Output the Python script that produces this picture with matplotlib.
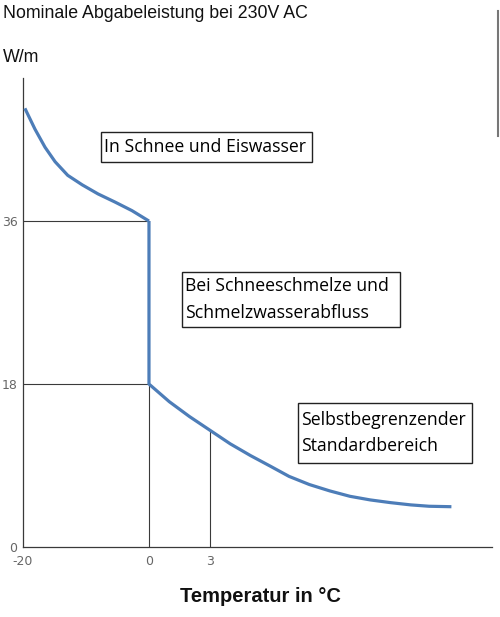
import numpy as np
import matplotlib
matplotlib.use("Agg")
import matplotlib.pyplot as plt
from matplotlib.lines import Line2D

# ---- data ----
temp_cold = [-19.7, -18.1, -16.5, -14.9, -12.9, -10.6, -8.1, -5.4, -2.7, 0.0]
power_cold = [48.45, 46.15, 44.15, 42.55, 41.05, 40.0, 39.0, 38.1, 37.15, 36.0]
temp_warm = [0.0, 0.0, 1.0, 2.0, 3.0, 4.0, 5.0, 6.0, 6.9, 7.9, 8.9, 9.9,
             10.9, 11.9, 12.9, 13.8, 14.9]
power_warm = [36.0, 18.0, 16.05, 14.4, 12.9, 11.4, 10.1, 8.9, 7.8, 6.9, 6.2, 5.6,
              5.2, 4.9, 4.65, 4.5, 4.45]
x_ticks = [-20, 0, 3]
x_ticklabels = ["-20", "0", "3"]
y_ticks = [0, 18, 36]
y_ticklabels = ["0", "18", "36"]
title = "Nominale Abgabeleistung bei 230V AC"
unit = "W/m"
xlabel = "Temperatur in °C"
box_labels = ["In Schnee und Eiswasser",
              "Bei Schneeschmelze und\nSchmelzwasserabfluss",
              "Selbstbegrenzender\nStandardbereich"]

# piecewise-linear temperature axis as in the original drawing
def fwd(t):
    t = np.asarray(t, dtype=float)
    return np.where(t < 0, t * 6.3, t * 20.3)

def inv(p):
    p = np.asarray(p, dtype=float)
    return np.where(p < 0, p / 6.3, p / 20.3)

fig = plt.figure(figsize=(5.0, 6.17), dpi=100)
ax = fig.add_axes([0.046, 1 - 547 / 617, 0.984 - 0.046, (547 - 78) / 617])
ax.set_xscale("function", functions=(fwd, inv))
ax.set_xlim(-20, 16.9)
ax.set_ylim(0, 51.8)

grey = "#3a3a3a"
# reference lines
ax.plot([-20, 0], [36, 36], color=grey, lw=0.8, zorder=1)
ax.plot([-20, 0], [18, 18], color=grey, lw=0.8, zorder=1)
ax.plot([0, 0], [0, 18], color=grey, lw=0.8, zorder=1)
ax.plot([3, 3], [0, power_warm[temp_warm.index(3.0)]], color=grey, lw=0.8, zorder=1)

curve_col = "#4d7db8"
ax.plot(temp_cold, power_cold, color=curve_col, lw=2.3, solid_capstyle="butt",
        solid_joinstyle="round", zorder=3)
ax.plot(temp_warm, power_warm, color=curve_col, lw=2.3, solid_capstyle="butt",
        solid_joinstyle="round", zorder=3)

for s in ["top", "right"]:
    ax.spines[s].set_visible(False)
for s in ["left", "bottom"]:
    ax.spines[s].set_color(grey)
    ax.spines[s].set_linewidth(0.9)

ax.set_xticks(x_ticks)
ax.set_xticklabels(x_ticklabels)
ax.set_yticks(y_ticks)
ax.set_yticklabels(y_ticklabels)
ax.tick_params(axis="both", length=0, labelsize=9, labelcolor="#666666")
ax.tick_params(axis="x", pad=6)
ax.tick_params(axis="y", pad=4)

# titles
fig.text(0.006, 1 - 14 / 617, title, fontsize=12.8, family="Liberation Sans",
         ha="left", va="center", color="#111111")
fig.text(0.006, 1 - 57 / 617, unit, fontsize=12.8, family="Liberation Sans",
         ha="left", va="center", color="#111111")
fig.text(260 / 500, 1 - 596 / 617, xlabel, fontsize=14.5, family="Liberation Sans",
         fontweight="bold", ha="center", va="center", color="#111111")

# annotation boxes (pixel positions of the original layout)
boxes = [(101, 132, 312, 162), (182, 272, 400, 327), (298, 403, 472, 463)]
for (x0, y0, x1, y1), txt in zip(boxes, box_labels):
    fx0, fx1 = x0 / 500, x1 / 500
    fy0, fy1 = 1 - y1 / 617, 1 - y0 / 617
    rect = plt.Rectangle((fx0, fy0), fx1 - fx0, fy1 - fy0, transform=fig.transFigure,
                         fill=True, facecolor="white", edgecolor="#222222", lw=1.0, zorder=5)
    fig.add_artist(rect)
    fig.text(fx0 + 3 / 500, (fy0 + fy1) / 2, txt, fontsize=12.7, family="Open Sans",
             ha="left", va="center", linespacing=1.6, color="#000000", zorder=6)

# thin grey bar at the right edge of the original image
fig.add_artist(Line2D([498 / 500, 498 / 500], [1 - 11 / 617, 1 - 136 / 617],
                      transform=fig.transFigure, color="#777777", lw=1.5))

fig.savefig("out.png", dpi=100)
